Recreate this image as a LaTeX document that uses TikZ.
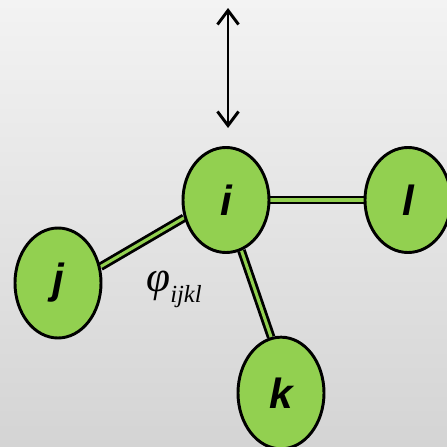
\documentclass[tikz,border=0pt]{standalone}
\usepackage{fontspec}
\newfontfamily\lblfont{Liberation Sans}
\newfontfamily\notefont{Liberation Serif}
\usetikzlibrary{arrows.meta, shapes.geometric, backgrounds}
\definecolor{cgreen}{HTML}{92D050}
\definecolor{cbgtop}{HTML}{F3F3F3}
\definecolor{cbgbot}{HTML}{D4D4D4}
\tikzset{
  atom/.style={ellipse, draw=black, line width=2.5pt, fill=cgreen, minimum width=2.58cm, minimum height=3.15cm,
    inner sep=0pt, font=\lblfont\bfseries\itshape\fontsize{36}{38}\selectfont},
  bond/.style={draw=black, line width=2.4pt, double=cgreen, double distance=2.6pt},
  arrow/.style={{Straight Barb[length=12pt, width=18pt]}-{Straight Barb[length=12pt, width=18pt]}, line width=2.5pt},
  note/.style={font=\notefont\itshape\fontsize{37}{38}\selectfont},
}

\begin{document}
\begin{tikzpicture}[x=0.03cm, y=-0.03cm]
  \clip (0,0) rectangle (447,447);
  \begin{scope}[on background layer]
    \shade[top color=cbgtop, bottom color=cbgbot] (0,0) rectangle (447,447);
  \end{scope}
  \node[atom] (i) at (226,200) {i};
  \node[atom] (l) at (408,200) {l};
  \node[atom, minimum height=3.3cm] (j) at (58,283) {j};
  \node[atom, minimum height=3.35cm] (k) at (281,393) {k};
  % bonds go under the atoms
  \begin{scope}[on background layer]
    \draw[bond] (i.0) -- (l.180);
    \draw[bond] (i.203) -- (j.21);
    \draw[bond] (i.287) -- (k.100);
  \end{scope}
  \coordinate (up) at (228,8);
  \coordinate (down) at (228,128);
  \draw[arrow] (up) -- (down);
  \node[note] (phi) at (174,289) {φ\raisebox{-0.25em}{\fontsize{21}{22}\selectfont ijkl}};
\end{tikzpicture}
\end{document}
